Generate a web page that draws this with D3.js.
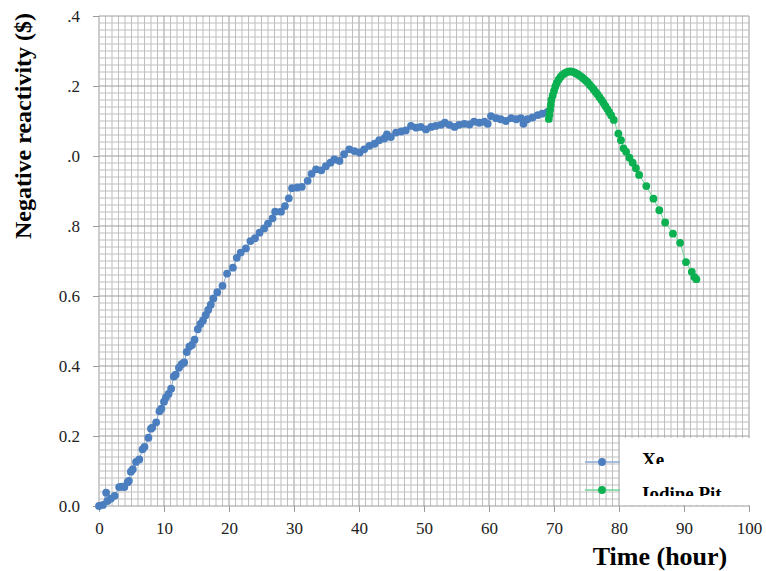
<!DOCTYPE html>
<html>
<head>
<meta charset="utf-8">
<script src="https://cdn.jsdelivr.net/npm/d3@7"></script>
<style>
  html, body { margin: 0; padding: 0; background: #fff; }
  svg { display: block; }
</style>
</head>
<body>
<svg id="chart" width="766" height="571"></svg>
<script>
// Time (hour) for the xenon build-up series
const xeTime = [0, 0.6, 1.1, 1.3, 1.8, 2.4, 3.1, 3.5, 3.9, 4.4, 4.6, 4.9, 5.2, 5.7, 6.2, 6.7, 7.0, 7.6, 8.0, 8.2, 8.8, 9.3, 9.6, 10.0,
  10.3, 10.7, 11.1, 11.5, 11.8, 12.3, 12.7, 13.1, 13.5, 13.9, 14.3, 14.7, 15.2, 15.6, 16.0, 16.4, 16.8, 17.2,
  17.6, 18.2, 19.0, 19.7, 20.6, 21.2, 21.8, 22.6, 23.3, 24.0, 24.7, 25.4, 26.0, 26.7, 27.1, 28.0, 28.6, 29.2, 29.7,
  30.5, 31.2, 32.1, 32.7, 33.4, 34.2, 34.9, 35.6, 36.2, 37.0, 37.7, 38.5, 39.3, 40.1, 40.8, 41.6, 42.4, 43.1, 43.9,
  44.3, 44.9, 45.7, 46.5, 47.2, 48.0, 48.8, 49.5, 50.3, 51.1, 51.8, 52.6, 53.2, 53.9, 54.7, 55.4, 56.2, 57.0, 57.7,
  58.5, 59.3, 59.8, 60.3, 61.1, 61.8, 62.6, 63.4, 64.2, 64.9, 65.3, 65.9, 66.7, 67.5, 68.2, 69.0];
// Negative reactivity ($) for the xenon build-up series
const xeValue = [0, 0.003, 0.038, 0.014, 0.021, 0.029, 0.054, 0.055, 0.054, 0.068, 0.072, 0.098, 0.105, 0.126, 0.133, 0.162, 0.169, 0.195, 0.221, 0.224, 0.239, 0.271, 0.278, 0.298,
  0.31, 0.32, 0.335, 0.37, 0.375, 0.395, 0.405, 0.41, 0.44, 0.455, 0.46, 0.475, 0.505, 0.52, 0.53, 0.545, 0.56, 0.575,
  0.593, 0.611, 0.629, 0.664, 0.681, 0.709, 0.724, 0.736, 0.757, 0.765, 0.781, 0.793, 0.807, 0.822, 0.841, 0.841, 0.857, 0.879, 0.908,
  0.91, 0.912, 0.929, 0.949, 0.962, 0.959, 0.971, 0.981, 0.99, 0.986, 1.005, 1.019, 1.014, 1.01, 1.019, 1.029, 1.035, 1.045, 1.05,
  1.062, 1.054, 1.067, 1.07, 1.073, 1.086, 1.081, 1.083, 1.076, 1.083, 1.086, 1.089, 1.095, 1.089, 1.083, 1.089, 1.092, 1.09, 1.098,
  1.095, 1.098, 1.092, 1.114, 1.108, 1.105, 1.1, 1.108, 1.105, 1.108, 1.092, 1.105, 1.11, 1.117, 1.121, 1.126];

// Time (hour) after shutdown for the iodine pit series
const pitTime = [69.2, 69.3, 69.4, 69.5, 69.6, 69.8, 70.0, 70.2, 70.4, 70.7, 71.0, 71.3, 71.6, 71.9, 72.2, 72.5, 72.8, 73.1, 73.4, 73.7,
  74.0, 74.3, 74.6, 74.9, 75.2, 75.5, 75.8, 76.1, 76.4, 76.7, 77.0, 77.3, 77.6, 77.9, 78.2, 78.5, 78.8, 79.2,
  79.9, 80.3, 80.7, 81.1, 81.6, 82.1, 82.6, 83.1, 84.2, 85.3, 86.2, 87.1, 88.3, 89.4, 90.3, 91.2, 91.6, 91.9];
// Negative reactivity ($) for the iodine pit series
const pitValue = [1.106, 1.118, 1.132, 1.146, 1.16, 1.173, 1.186, 1.198, 1.208, 1.218, 1.226, 1.232, 1.236, 1.239, 1.241, 1.242, 1.241, 1.239, 1.236, 1.233,
  1.229, 1.225, 1.22, 1.215, 1.21, 1.203, 1.197, 1.19, 1.183, 1.176, 1.168, 1.16, 1.152, 1.143, 1.134, 1.125, 1.116, 1.103,
  1.064, 1.045, 1.022, 1.012, 0.995, 0.981, 0.965, 0.946, 0.914, 0.878, 0.845, 0.81, 0.778, 0.752, 0.697, 0.669, 0.654, 0.648];

const xTicks = [0, 10, 20, 30, 40, 50, 60, 70, 80, 90, 100];
const xTickLabels = ["0", "10", "20", "30", "40", "50", "60", "70", "80", "90", "100"];
const yTicks = [0, 0.2, 0.4, 0.6, 0.8, 1.0, 1.2, 1.4];
const yTickLabels = ["0.0", "0.2", "0.4", "0.6", ".8", ".0", ".2", ".4"];
const seriesNames = ["Xe", "Iodine Pit"];

const svg = d3.select("#chart");
const x = d3.scaleLinear().domain([0, 100]).range([99, 749]);
const y = d3.scaleLinear().domain([0, 1.4]).range([506, 16]);
const serif = "'Liberation Serif', 'Times New Roman', serif";

// grid: every hour and every 0.02 $, darker every 10 h and every 0.2 $
const grid = svg.append("g");
grid.selectAll("line.v").data(d3.range(0, 101, 1)).join("line")
  .attr("x1", d => x(d)).attr("x2", d => x(d)).attr("y1", y(0)).attr("y2", y(1.4))
  .attr("stroke", d => d % 10 === 0 ? "#9c9c9c" : "#bfbfbf").attr("stroke-width", 1);
grid.selectAll("line.h").data(d3.range(0, 71, 1)).join("line")
  .attr("x1", x(0)).attr("x2", x(100)).attr("y1", d => y(d * 0.02)).attr("y2", d => y(d * 0.02))
  .attr("stroke", d => d % 10 === 0 ? "#9c9c9c" : "#bfbfbf").attr("stroke-width", 1);

// axes
const xAxis = d3.axisBottom(x).tickValues(xTicks).tickSize(6).tickFormat((d, i) => xTickLabels[i]);
const gx = svg.append("g").attr("transform", `translate(0,${y(0)})`).call(xAxis);
gx.select(".domain").remove();
gx.selectAll(".tick line").attr("stroke", "#9c9c9c");
gx.selectAll(".tick text").attr("font-family", serif).attr("font-size", 17).attr("fill", "#222").attr("dy", "1.1em");

const yAxis = d3.axisLeft(y).tickValues(yTicks).tickSize(6).tickFormat((d, i) => yTickLabels[i]);
const gy = svg.append("g").attr("transform", `translate(${x(0)},0)`).call(yAxis);
gy.select(".domain").remove();
gy.selectAll(".tick line").attr("stroke", "#9c9c9c");
gy.selectAll(".tick text").attr("font-family", serif).attr("font-size", 17).attr("fill", "#222").attr("x", -19);

// series
const xeData = xeTime.map((t, i) => ({ t, v: xeValue[i] }));
const pitData = pitTime.map((t, i) => ({ t, v: pitValue[i] }));
const line = d3.line().x(d => x(d.t)).y(d => y(d.v));

svg.append("path").datum(xeData).attr("d", line).attr("fill", "none").attr("stroke", "#8aaad6").attr("stroke-width", 1);
svg.append("g").selectAll("circle").data(xeData).join("circle")
  .attr("cx", d => x(d.t)).attr("cy", d => y(d.v)).attr("r", 3.9).attr("fill", "#4a7ebf");

svg.append("path").datum(pitData).attr("d", line).attr("fill", "none").attr("stroke", "#6fd69a").attr("stroke-width", 1);
svg.append("g").selectAll("circle").data(pitData).join("circle")
  .attr("cx", d => x(d.t)).attr("cy", d => y(d.v)).attr("r", 3.9).attr("fill", "#0bb050");

// legend
const legend = svg.append("g");
legend.append("rect").attr("x", 620).attr("y", 438).attr("width", 132).attr("height", 67).attr("fill", "#fff");
const legendRows = [
  { name: seriesNames[0], line: "#8aaad6", dot: "#4a7ebf", ly: 462, base: 466, clip: 464 },
  { name: seriesNames[1], line: "#6fd69a", dot: "#0bb050", ly: 490, base: 500, clip: 496 }
];
const defs = svg.append("defs");
legendRows.forEach((r, i) => {
  legend.append("line").attr("x1", 585).attr("x2", 620).attr("y1", r.ly).attr("y2", r.ly)
    .attr("stroke", r.line).attr("stroke-width", 1.5);
  legend.append("circle").attr("cx", 602).attr("cy", r.ly).attr("r", 3.9).attr("fill", r.dot);
  defs.append("clipPath").attr("id", "lg" + i).append("rect")
    .attr("x", 620).attr("y", 430).attr("width", 140).attr("height", r.clip - 430);
  legend.append("text").attr("x", 642).attr("y", r.base).attr("clip-path", `url(#lg${i})`)
    .attr("font-family", serif).attr("font-weight", "bold").attr("font-size", 19).attr("fill", "#000")
    .text(r.name);
});

// axis titles
svg.append("text").attr("transform", "translate(31,126) rotate(-90)").attr("text-anchor", "middle")
  .attr("font-family", serif).attr("font-weight", "bold").attr("font-size", 24).attr("fill", "#000")
  .text("Negative reactivity ($)");
svg.append("text").attr("x", 660).attr("y", 565).attr("text-anchor", "middle")
  .attr("font-family", serif).attr("font-weight", "bold").attr("font-size", 26).attr("fill", "#000")
  .text("Time (hour)");
</script>
</body>
</html>
